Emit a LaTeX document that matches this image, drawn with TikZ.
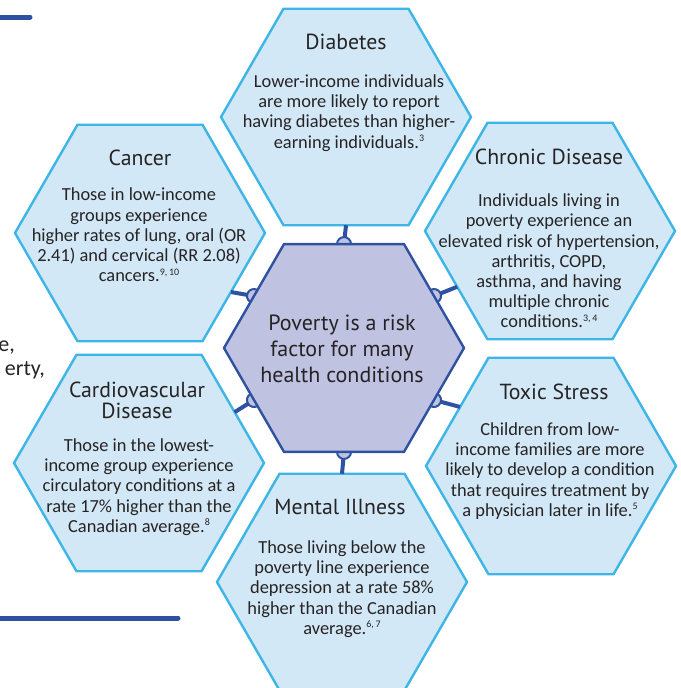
\documentclass[tikz,border=0pt]{standalone}
\usepackage{fontspec}
\setmainfont{Carlito}
\newfontfamily\titlefont{PT Sans}
\usetikzlibrary{shapes.geometric}
\definecolor{hexfill}{HTML}{D3E8F6}
\definecolor{hexline}{HTML}{3DB5E7}
\definecolor{ctrfill}{HTML}{BFC2E1}
\definecolor{navy}{HTML}{2E52A1}
\definecolor{ink}{HTML}{262324}
\newcommand\hsup[1]{\raisebox{0.75ex}{\fontsize{10}{10}\selectfont #1}}
\begin{document}
\begin{tikzpicture}[x=1pt,y=-1pt,
 hexo/.style={regular polygon, regular polygon sides=6, minimum size=250pt, inner sep=0pt, outer sep=0pt, draw=hexline, line width=2.4pt, fill=hexfill},
 hexc/.style={regular polygon, regular polygon sides=6, minimum size=240pt, inner sep=0pt, outer sep=0pt, draw=navy, line width=2.4pt, fill=ctrfill},
 ttl/.style={font=\titlefont\fontsize{21.8}{21}\selectfont, text=ink, align=center, inner sep=0pt},
 body/.style={font=\fontsize{18.4}{20.2}\selectfont, text=ink, align=center, inner sep=0pt},
 ctxt/.style={font=\titlefont\fontsize{22}{26}\selectfont, text=ink, align=center, inner sep=0pt},
 conn/.style={draw=navy, line width=4pt},
 knob/.style={draw=navy, line width=2pt, fill=ctrfill},
 deco/.style={draw=navy, line width=5pt, line cap=round},
 frag/.style={font=\fontsize{22}{24}\selectfont, text=ink, inner sep=0pt}]
\useasboundingbox (0,0) rectangle (680,688);

% decorative page elements
\draw[deco] (-6,17) -- (30,17);
\draw[deco] (-6,618) -- (178,618);
\node[frag, anchor=base east] (fragA) at (15,351) {e,};
\node[frag, anchor=base east] (fragB) at (45,375) {erty,};

% outer hexagons
\node[hexo] (diab) at (346,117) {};
\node[hexo] (cancer) at (140,233) {};
\node[hexo] (chronic) at (550,231) {};
\node[hexo] (cardio) at (139,463) {};
\node[hexo] (toxic) at (551,466) {};
\node[hexo] (mental) at (342,582) {};

% centre hexagon (placed first for anchors, filled later)
\node[hexc, draw=none, fill=none] (ctr) at (344,348) {};

% connectors
\draw[conn] (ctr.90) -- (diab.270);
\draw[conn] (ctr.150) -- (cancer.-33);
\draw[conn] (ctr.210) -- (cardio.28);
\draw[conn] (ctr.270) -- (mental.90);
\draw[conn] (ctr.330) -- (toxic.147);
\draw[conn] (ctr.30) -- (chronic.211);

% knobs
\draw[knob] (ctr.90) ++(0:7pt) arc[start angle=0, end angle=180, radius=7pt];
\draw[knob] (ctr.150) ++(60:7pt) arc[start angle=60, end angle=240, radius=7pt];
\draw[knob] (ctr.210) ++(120:7pt) arc[start angle=120, end angle=300, radius=7pt];
\draw[knob] (ctr.270) ++(180:7pt) arc[start angle=180, end angle=360, radius=7pt];
\draw[knob] (ctr.330) ++(240:7pt) arc[start angle=240, end angle=420, radius=7pt];
\draw[knob] (ctr.30) ++(-60:7pt) arc[start angle=-60, end angle=120, radius=7pt];

\node[hexc] (ctrbox) at (344,348) {};

% texts
\node[ctxt] (ctrtext) at (342,349) {Poverty is a risk\\factor for many\\health conditions};

\node[ttl] (diabT) at (346,42) {Diabetes};
\node[body] (diabB) at (349,113) {Lower-income individuals\\are more likely to report\\having diabetes than higher-\\earning individuals.\hsup{3}};

\node[ttl] (cancerT) at (140,158) {Cancer};
\node[body] (cancerB) at (139,235) {Those in low-income\\groups experience\\higher rates of lung, oral (OR\\2.41) and cervical (RR 2.08)\\cancers.\hsup{9,\,10}};

\node[ttl] (chronicT) at (549,157) {Chronic Disease};
\node[body] (chronicB) at (549,261) {Individuals living in\\poverty experience an\\elevated risk of hypertension,\\arthritis, COPD,\\asthma, and having\\multiple chronic\\conditions.\hsup{3,\,4}};

\node[ttl] (cardioT) at (137,400) {Cardiovascular\\Disease};
\node[body] (cardioB) at (139,487) {Those in the lowest-\\income group experience\\circulatory conditions at a\\rate 17\% higher than the\\Canadian average.\hsup{8}};

\node[ttl] (mentalT) at (340,507) {Mental Illness};
\node[body] (mentalB) at (342,589) {Those living below the\\poverty line experience\\depression at a rate 58\%\\higher than the Canadian\\average.\hsup{6,\,7}};

\node[ttl] (toxicT) at (554,392) {Toxic Stress};
\node[body] (toxicB) at (550,471) {Children from low-\\income families are more\\likely to develop a condition\\that requires treatment by\\a physician later in life.\hsup{5}};
\end{tikzpicture}
\end{document}
